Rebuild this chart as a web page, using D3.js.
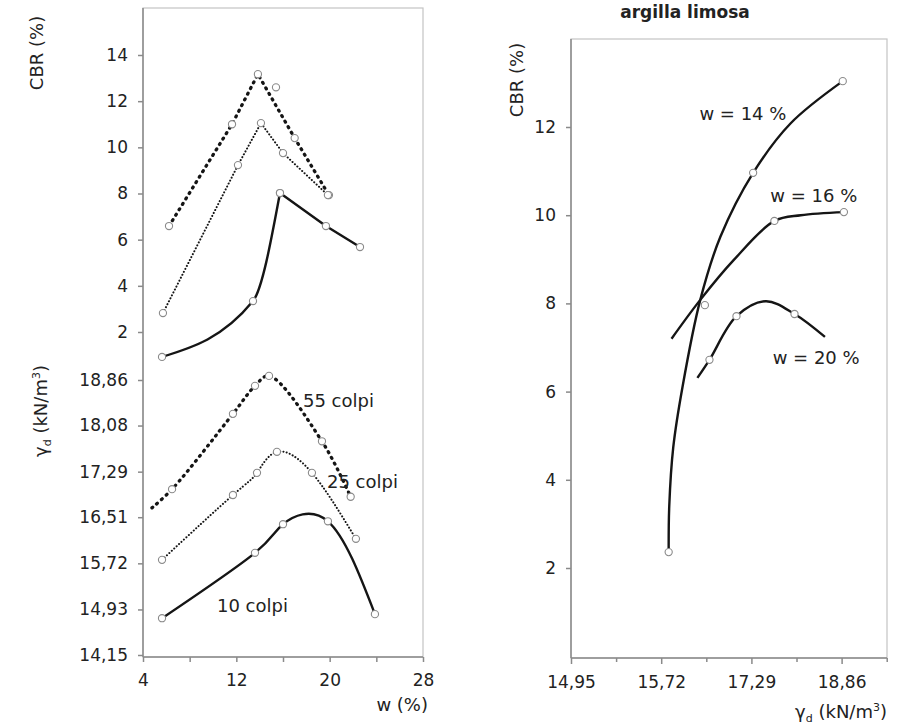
<!DOCTYPE html>
<html>
<head>
<meta charset="utf-8">
<script src="https://cdn.jsdelivr.net/npm/d3@7"></script>
<style>
  html, body { margin: 0; padding: 0; background: #fff; }
  svg { display: block; }
  text { font-family: "DejaVu Sans", "Liberation Sans", sans-serif; fill: #222; }
</style>
</head>
<body>
<svg id="chart" width="904" height="725"></svg>
<script>
// ---------------- DATA ----------------
// Left panel: water content w (%) on x
const wTicks = [4, 12, 20, 28];
const wMinorTicks = [8, 16, 24];
const cbrLeftTicks = [2, 4, 6, 8, 10, 12, 14];
const gammaLeftTicks = [14.15, 14.93, 15.72, 16.51, 17.29, 18.08, 18.86];
const gammaLeftTickLabels = ["14,15", "14,93", "15,72", "16,51", "17,29", "18,08", "18,86"];

// flag: 1 = measured point on the line, 0 = point read off the line only, 2 = marker only
// CBR (%) vs w (%)
const cbr55 = [[6.23, 6.59, 1], [11.63, 11.0, 1], [13.85, 13.17, 1], [15.4, 12.6, 2], [17.0, 10.4, 1], [19.94, 7.93, 1]];
const cbr25 = [[5.71, 2.82, 1], [12.14, 9.23, 1], [14.11, 11.05, 1], [16.0, 9.75, 1], [19.85, 7.93, 1]];
const cbr10rise = [[5.63, 0.92, 1], [13.43, 3.34, 1], [15.74, 8.02, 1]];
const cbr10fall = [[15.74, 8.02, 1], [19.68, 6.59, 1], [22.6, 5.68, 1]];

// gamma_d (kN/m3) vs w (%)
const gd55 = [[4.77, 16.67, 0], [6.49, 16.99, 1], [11.71, 18.28, 1], [13.6, 18.76, 1], [14.8, 18.93, 1], [19.34, 17.81, 1], [21.8, 16.86, 1]];
const gd25 = [[5.63, 15.78, 1], [11.71, 16.89, 1], [13.77, 17.27, 1], [15.48, 17.63, 1], [18.48, 17.27, 1], [22.25, 16.14, 1]];
const gd10 = [[5.63, 14.78, 1], [13.6, 15.90, 1], [16.0, 16.39, 1], [19.85, 16.44, 1], [23.88, 14.85, 1]];

const curveLabelsLeft = [
  { text: "55 colpi", w: 17.71, g: 18.40 },
  { text: "25 colpi", w: 19.77, g: 17.01 },
  { text: "10 colpi", w: 10.34, g: 14.89 }
];

// Right panel: CBR (%) vs gamma_d (kN/m3), "argilla limosa"
const gammaRightTicks = [14.15, 15.72, 17.29, 18.86];
const gammaRightTickLabels = ["14,95", "15,72", "17,29", "18,86"];
const gammaRightMinorTicks = [14.935, 16.505, 18.075, 19.645];
const cbrRightTicks = [2, 4, 6, 8, 10, 12];

const cbrW14 = [[15.85, 2.36, 1], [15.86, 3.4, 0], [15.93, 4.74, 0], [16.09, 6.10, 0], [16.40, 8.08, 0],
                [16.48, 7.96, 2], [16.75, 9.51, 0], [17.32, 10.96, 1], [17.97, 12.08, 0], [18.88, 13.04, 1]];
const cbrW16 = [[15.9, 7.2, 0], [16.4, 8.08, 0], [16.98, 8.98, 0], [17.69, 9.87, 1], [18.15, 10.0, 0], [18.9, 10.07, 1]];
const cbrW20 = [[16.35, 6.31, 0], [16.56, 6.72, 1], [17.03, 7.71, 1], [17.54, 8.05, 0], [18.04, 7.76, 1], [18.57, 7.24, 0]];

const curveLabelsRight = [
  { text: "w = 14 %", g: 16.385, c: 12.16 },
  { text: "w = 16 %", g: 17.62, c: 10.30 },
  { text: "w = 20 %", g: 17.66, c: 6.63 }
];

// ---------------- DRAWING ----------------
const svg = d3.select("#chart");
const axisColor = "#8a8a8a";
const frameColor = "#c4c4c4";
const lineColor = "#151515";

// ---- Left panel scales ----
const L = { left: 143, right: 423, top: 8, bottom: 657 };
const xW = d3.scaleLinear().domain([4, 28]).range([L.left, L.right]);
const yCbrL = d3.scaleLinear().domain([2, 14]).range([332, 55]);
const yGdL = d3.scaleLinear().domain([14.15, 18.86]).range([655, 380]);

// ---- Right panel scales ----
const R = { left: 571, right: 887, top: 39, bottom: 658 };
const xG = d3.scaleLinear().domain([14.15, 19.65]).range([R.left, R.right]);
const yCbrR = d3.scaleLinear().domain([2, 12]).range([568, 127]);

function frame(P) {
  svg.append("rect")
    .attr("x", P.left).attr("y", P.top)
    .attr("width", P.right - P.left).attr("height", P.bottom - P.top)
    .attr("fill", "none").attr("stroke", frameColor).attr("stroke-width", 1.2);
  svg.append("line").attr("x1", P.left).attr("x2", P.left).attr("y1", P.top).attr("y2", P.bottom)
    .attr("stroke", axisColor).attr("stroke-width", 1.5);
  svg.append("line").attr("x1", P.left).attr("x2", P.right).attr("y1", P.bottom).attr("y2", P.bottom)
    .attr("stroke", axisColor).attr("stroke-width", 1.5);
}
frame(L);
frame(R);

function styleAxis(g) {
  g.select(".domain").remove();
  g.selectAll(".tick line").attr("stroke", axisColor).attr("stroke-width", 1.5);
  g.selectAll(".tick text").attr("fill", "#222")
    .style("font-family", "'DejaVu Sans', sans-serif").style("font-size", "17px");
}

// Left x axis
svg.append("g").attr("transform", `translate(0,${L.bottom})`)
  .call(d3.axisBottom(xW).tickValues(wTicks).tickFormat(d3.format("d")).tickSize(5).tickPadding(12))
  .call(styleAxis);
svg.append("g").attr("transform", `translate(0,${L.bottom})`)
  .call(d3.axisBottom(xW).tickValues(wMinorTicks).tickFormat("").tickSize(5))
  .call(styleAxis);

// Left y axes (CBR on top, gamma_d below)
svg.append("g").attr("transform", `translate(${L.left},0)`)
  .call(d3.axisLeft(yCbrL).tickValues(cbrLeftTicks).tickFormat(d3.format("d")).tickSize(5).tickPadding(10))
  .call(styleAxis);
svg.append("g").attr("transform", `translate(${L.left},0)`)
  .call(d3.axisLeft(yGdL).tickValues(gammaLeftTicks)
    .tickFormat((d, i) => gammaLeftTickLabels[i]).tickSize(5).tickPadding(10))
  .call(styleAxis);

// Right axes
svg.append("g").attr("transform", `translate(0,${R.bottom})`)
  .call(d3.axisBottom(xG).tickValues(gammaRightTicks)
    .tickFormat((d, i) => gammaRightTickLabels[i]).tickSize(6).tickPadding(12))
  .call(styleAxis);
svg.append("g").attr("transform", `translate(0,${R.bottom})`)
  .call(d3.axisBottom(xG).tickValues(gammaRightMinorTicks).tickFormat("").tickSize(4))
  .call(styleAxis);
svg.append("g").attr("transform", `translate(${R.left},0)`)
  .call(d3.axisLeft(yCbrR).tickValues(cbrRightTicks).tickFormat(d3.format("d")).tickSize(5).tickPadding(10))
  .call(styleAxis);

// ---- Axis titles ----
function rotTitle(x, y, parts) {
  const t = svg.append("text")
    .attr("transform", `translate(${x},${y}) rotate(-90)`)
    .attr("text-anchor", "middle")
    .style("font-size", "18px");
  parts(t);
}
function gammaTitle(t) {
  t.append("tspan").text("\u03B3");
  t.append("tspan").attr("dy", 4).style("font-size", "11px").text("d");
  t.append("tspan").attr("dy", -4).text(" (kN/m");
  t.append("tspan").attr("dy", -7).style("font-size", "11px").text("3");
  t.append("tspan").attr("dy", 7).text(")");
}
rotTitle(43, 53, t => t.text("CBR (%)"));
rotTitle(47, 411, gammaTitle);
rotTitle(523, 80, t => t.text("CBR (%)"));

svg.append("text").attr("x", 428).attr("y", 711).attr("text-anchor", "end")
  .style("font-size", "18px").text("w (%)");

gammaTitle(svg.append("text").attr("x", 887).attr("y", 718).attr("text-anchor", "end")
  .style("font-size", "18px"));

svg.append("text").attr("x", 685).attr("y", 18).attr("text-anchor", "middle")
  .style("font-size", "17px").style("font-weight", "bold").text("argilla limosa");

// ---- Series ----
const styles = {
  dashed: { width: 3.3, dash: "1,5.4", cap: "round" },
  dotted: { width: 2.0, dash: "0.1,3.2", cap: "round" },
  solid:  { width: 2.4, dash: null, cap: "butt" }
};

function drawSeries(data, xs, ys, style, curve) {
  const linePts = data.filter(d => d[2] !== 2);
  const line = d3.line().x(d => xs(d[0])).y(d => ys(d[1])).curve(curve);
  const st = styles[style];
  svg.append("path").attr("d", line(linePts))
    .attr("fill", "none").attr("stroke", lineColor)
    .attr("stroke-width", st.width)
    .attr("stroke-dasharray", st.dash)
    .attr("stroke-linecap", st.cap)
    .attr("stroke-linejoin", "round");
}
function drawMarkers(data, xs, ys) {
  svg.append("g").selectAll("circle").data(data.filter(d => d[2] !== 0)).join("circle")
    .attr("cx", d => xs(d[0])).attr("cy", d => ys(d[1])).attr("r", 3.6)
    .attr("fill", "#fff").attr("stroke", "#8a8a8a").attr("stroke-width", 1.1);
}

// Left top: CBR
drawSeries(cbr55, xW, yCbrL, "dashed", d3.curveLinear);
drawSeries(cbr25, xW, yCbrL, "dotted", d3.curveLinear);
drawSeries(cbr10rise, xW, yCbrL, "solid", d3.curveMonotoneX);
drawSeries(cbr10fall, xW, yCbrL, "solid", d3.curveLinear);
// Left bottom: gamma_d
drawSeries(gd55, xW, yGdL, "dashed", d3.curveCatmullRom);
drawSeries(gd25, xW, yGdL, "dotted", d3.curveNatural);
drawSeries(gd10, xW, yGdL, "solid", d3.curveNatural);
// Right
drawSeries(cbrW14, xG, yCbrR, "solid", d3.curveCatmullRom);
drawSeries(cbrW16, xG, yCbrR, "solid", d3.curveCatmullRom);
drawSeries(cbrW20, xG, yCbrR, "solid", d3.curveCatmullRom);

[cbr55, cbr25, cbr10rise, cbr10fall].forEach(s => drawMarkers(s, xW, yCbrL));
[gd55, gd25, gd10].forEach(s => drawMarkers(s, xW, yGdL));
[cbrW14, cbrW16, cbrW20].forEach(s => drawMarkers(s, xG, yCbrR));

// ---- Curve labels ----
svg.append("g").selectAll("text").data(curveLabelsLeft).join("text")
  .attr("x", d => xW(d.w)).attr("y", d => yGdL(d.g))
  .style("font-size", "18px").text(d => d.text);
svg.append("g").selectAll("text").data(curveLabelsRight).join("text")
  .attr("x", d => xG(d.g)).attr("y", d => yCbrR(d.c))
  .style("font-size", "18px").text(d => d.text);
</script>
</body>
</html>
